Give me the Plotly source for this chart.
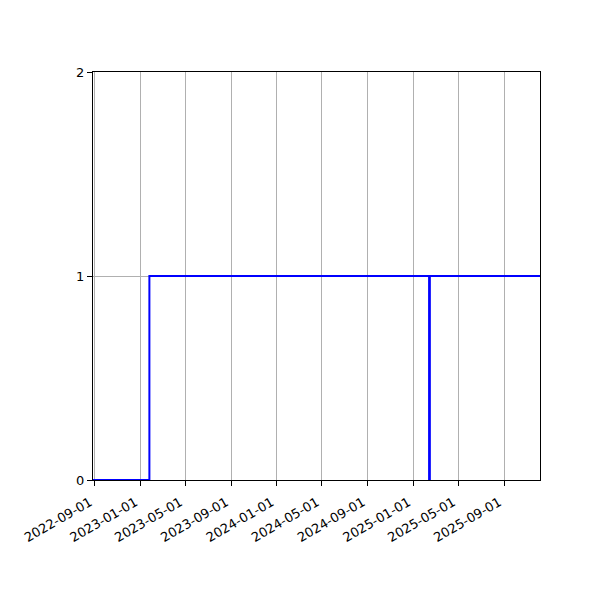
import plotly.graph_objects as go

dates = ["2022-08-27", "2023-01-25", "2025-02-12", "2025-02-14", "2025-12-06"]
values = [0, 1, 0, 1, 1]
tick_dates = ["2022-09-01", "2023-01-01", "2023-05-01", "2023-09-01", "2024-01-01",
              "2024-05-01", "2024-09-01", "2025-01-01", "2025-05-01", "2025-09-01"]
y_ticks = [0, 1, 2]
x_range = ["2022-08-27", "2025-12-06"]

fig = go.Figure()
fig.add_trace(go.Scatter(x=dates, y=values, mode="lines", line_shape="hv",
                         line=dict(color="#0000ff", width=2), showlegend=False))

axis_common = dict(showline=True, linecolor="black", linewidth=1, mirror=True,
                   ticks="outside", ticklen=5, tickcolor="black", tickwidth=1,
                   showgrid=True, gridcolor="#b0b0b0", gridwidth=0.8, zeroline=False,
                   tickfont=dict(family="DejaVu Sans", size=13, color="black"))

fig.update_xaxes(type="date", range=x_range, tickvals=tick_dates, ticktext=tick_dates,
                 tickangle=-30, ticklabelshift=-5, ticklabelstandoff=4, **axis_common)
fig.update_yaxes(range=[0, 2], tickvals=y_ticks, ticktext=[str(v) for v in y_ticks],
                 **axis_common)

fig.update_layout(width=600, height=600, plot_bgcolor="white", paper_bgcolor="white",
                  margin=dict(l=85, r=68, t=64, b=128, autoexpand=False),
                  font=dict(family="DejaVu Sans", size=13, color="black"))

fig.write_html("out.html")
